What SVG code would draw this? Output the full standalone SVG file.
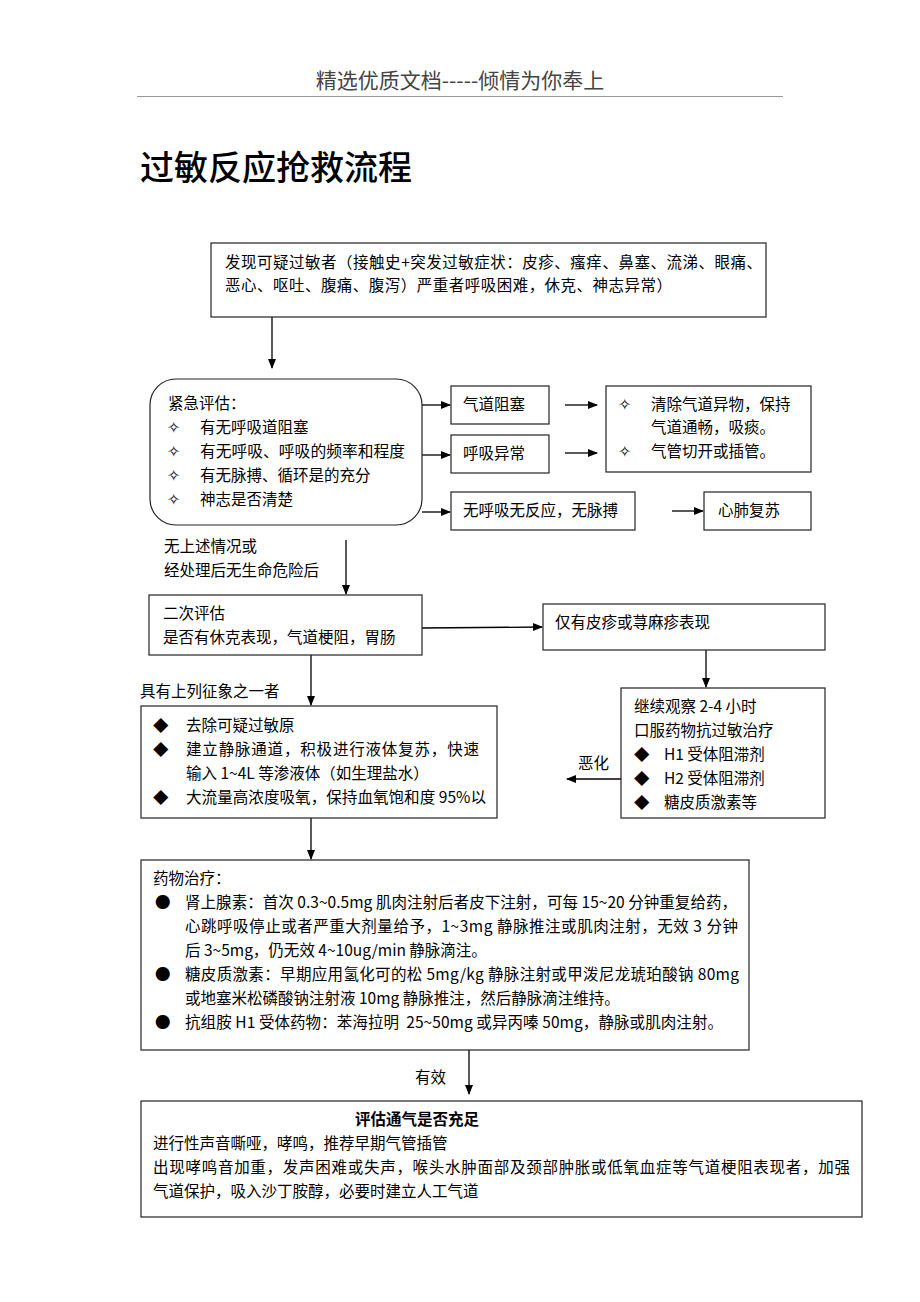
<svg xmlns="http://www.w3.org/2000/svg" width="920" height="1302" viewBox="0 0 920 1302">
<style>
text{font-family:"Noto Sans CJK SC","Liberation Sans",sans-serif;font-size:15.5px;fill:#000}
.box{fill:#fff;stroke:#222;stroke-width:1.2}
.ln{stroke:#000;stroke-width:1.3;fill:none}
.hd{font-size:21px;fill:#444}
.tt{font-size:34px;font-weight:500}
.b{font-weight:bold}
.st{font-size:16px}
</style>
<defs>
<marker id="ah" markerWidth="10" markerHeight="10" refX="9" refY="5" orient="auto" markerUnits="userSpaceOnUse">
<path d="M0,1 L10,5 L0,9 Z" fill="#000"/>
</marker>
</defs>
<rect width="920" height="1302" fill="#fff"/>
<g id="header">
<text class="hd" x="460" y="88" text-anchor="middle">精选优质文档-----倾情为你奉上</text>
<line x1="137" y1="96.5" x2="783" y2="96.5" stroke="#999" stroke-width="1"/>
<text class="tt" x="140" y="180">过敏反应抢救流程</text>
</g>
<g id="connectors">
<line class="ln" x1="272" y1="317" x2="272" y2="368" marker-end="url(#ah)"/>
<line class="ln" x1="422" y1="405" x2="450" y2="405" marker-end="url(#ah)"/>
<line class="ln" x1="422" y1="455" x2="450" y2="455" marker-end="url(#ah)"/>
<line class="ln" x1="422" y1="512" x2="450" y2="512" marker-end="url(#ah)"/>
<line class="ln" x1="565" y1="405" x2="597" y2="405" marker-end="url(#ah)"/>
<line class="ln" x1="565" y1="453" x2="597" y2="453" marker-end="url(#ah)"/>
<line class="ln" x1="672" y1="511" x2="703" y2="511" marker-end="url(#ah)"/>
<line class="ln" x1="346" y1="540" x2="346" y2="594" marker-end="url(#ah)"/>
<line class="ln" x1="422" y1="628" x2="542" y2="627" marker-end="url(#ah)"/>
<line class="ln" x1="706" y1="650" x2="706" y2="687" marker-end="url(#ah)"/>
<line class="ln" x1="311" y1="655" x2="311" y2="705" marker-end="url(#ah)"/>
<line class="ln" x1="621" y1="779" x2="567" y2="779" marker-end="url(#ah)"/>
<line class="ln" x1="311" y1="818" x2="311" y2="859" marker-end="url(#ah)"/>
<line class="ln" x1="469" y1="1050" x2="469" y2="1094" marker-end="url(#ah)"/>
<text x="164" y="552">无上述情况或</text>
<text x="164" y="576">经处理后无生命危险后</text>
<text x="140" y="697">具有上列征象之一者</text>
<text x="578" y="769">恶化</text>
<text x="415" y="1083">有效</text>
</g>
<g id="n1">
<rect class="box" x="211" y="243" width="555" height="74"/>
<text x="225" y="268" textLength="537" lengthAdjust="spacing">发现可疑过敏者（接触史+突发过敏症状：皮疹、瘙痒、鼻塞、流涕、眼痛、</text>
<text x="225" y="291" textLength="447" lengthAdjust="spacing">恶心、呕吐、腹痛、腹泻）严重者呼吸困难，休克、神志异常）</text>
</g>
<g id="n2">
<rect class="box" x="150" y="379" width="272" height="146" rx="26"/>
<text x="168" y="409">紧急评估：</text>
<text class="st" x="167" y="433">✧</text><text x="200" y="433">有无呼吸道阻塞</text>
<text class="st" x="167" y="457">✧</text><text x="200" y="457" textLength="205" lengthAdjust="spacingAndGlyphs">有无呼吸、呼吸的频率和程度</text>
<text class="st" x="167" y="481">✧</text><text x="200" y="481">有无脉搏、循环是的充分</text>
<text class="st" x="167" y="505">✧</text><text x="200" y="505">神志是否清楚</text>
</g>
<g id="n3">
<rect class="box" x="451" y="386" width="98" height="38"/>
<text x="463" y="410">气道阻塞</text>
</g>
<g id="n4">
<rect class="box" x="451" y="435" width="98" height="38"/>
<text x="463" y="459">呼吸异常</text>
</g>
<g id="n5">
<rect class="box" x="606" y="386" width="205" height="86"/>
<text class="st" x="618" y="410">✧</text><text x="651" y="410">清除气道异物，保持</text>
<text x="651" y="433">气道通畅，吸痰。</text>
<text class="st" x="618" y="457">✧</text><text x="651" y="457">气管切开或插管。</text>
</g>
<g id="n6">
<rect class="box" x="451" y="492" width="184" height="38"/>
<text x="463" y="516">无呼吸无反应，无脉搏</text>
</g>
<g id="n7">
<rect class="box" x="704" y="492" width="107" height="38"/>
<text x="718" y="516">心肺复苏</text>
</g>
<g id="n8">
<rect class="box" x="149" y="595" width="273" height="60"/>
<text x="163" y="619">二次评估</text>
<text x="163" y="643">是否有休克表现，气道梗阻，胃肠</text>
</g>
<g id="n9">
<rect class="box" x="543" y="604" width="282" height="46"/>
<text x="555" y="628">仅有皮疹或荨麻疹表现</text>
</g>
<g id="n10">
<rect class="box" x="621" y="688" width="204" height="130"/>
<text x="634" y="712">继续观察 2-4 小时</text>
<text x="634" y="736">口服药物抗过敏治疗</text>
<text x="634" y="760">◆</text><text x="664" y="760">H1 受体阻滞剂</text>
<text x="634" y="784">◆</text><text x="664" y="784">H2 受体阻滞剂</text>
<text x="634" y="808">◆</text><text x="664" y="808">糖皮质激素等</text>
</g>
<g id="n11">
<rect class="box" x="141" y="706" width="356" height="112"/>
<text x="153" y="731">◆</text><text x="186" y="731">去除可疑过敏原</text>
<text x="153" y="755">◆</text><text x="186" y="755" textLength="293" lengthAdjust="spacing">建立静脉通道，积极进行液体复苏，快速</text>
<text x="186" y="779">输入 1~4L 等渗液体（如生理盐水）</text>
<text x="153" y="803">◆</text><text x="186" y="803" textLength="300" lengthAdjust="spacingAndGlyphs">大流量高浓度吸氧，保持血氧饱和度 95%以</text>
</g>
<g id="n12">
<rect class="box" x="141" y="860" width="608" height="190"/>
<text x="153" y="884">药物治疗：</text>
<text x="155" y="908">●</text><text x="185" y="908" textLength="552" lengthAdjust="spacing">肾上腺素：首次 0.3~0.5mg 肌肉注射后者皮下注射，可每 15~20 分钟重复给药，</text>
<text x="185" y="932" textLength="553" lengthAdjust="spacing">心跳呼吸停止或者严重大剂量给予，1~3mg 静脉推注或肌肉注射，无效 3 分钟</text>
<text x="185" y="956">后 3~5mg，仍无效 4~10ug/min 静脉滴注。</text>
<text x="155" y="980">●</text><text x="185" y="980" textLength="554" lengthAdjust="spacing">糖皮质激素：早期应用氢化可的松 5mg/kg 静脉注射或甲泼尼龙琥珀酸钠 80mg</text>
<text x="185" y="1004">或地塞米松磷酸钠注射液 10mg 静脉推注，然后静脉滴注维持。</text>
<text x="155" y="1028">●</text><text x="185" y="1028" textLength="538" lengthAdjust="spacing">抗组胺 H1 受体药物：苯海拉明&#160; 25~50mg 或异丙嗪 50mg，静脉或肌肉注射。</text>
</g>
<g id="n13">
<rect class="box" x="141" y="1101" width="721" height="116"/>
<text class="b" x="355" y="1125" font-size="15">评估通气是否充足</text>
<text x="153" y="1149">进行性声音嘶哑，哮鸣，推荐早期气管插管</text>
<text x="153" y="1173" textLength="697" lengthAdjust="spacing">出现哮鸣音加重，发声困难或失声，喉头水肿面部及颈部肿胀或低氧血症等气道梗阻表现者，加强</text>
<text x="153" y="1197">气道保护，吸入沙丁胺醇，必要时建立人工气道</text>
</g>
</svg>
